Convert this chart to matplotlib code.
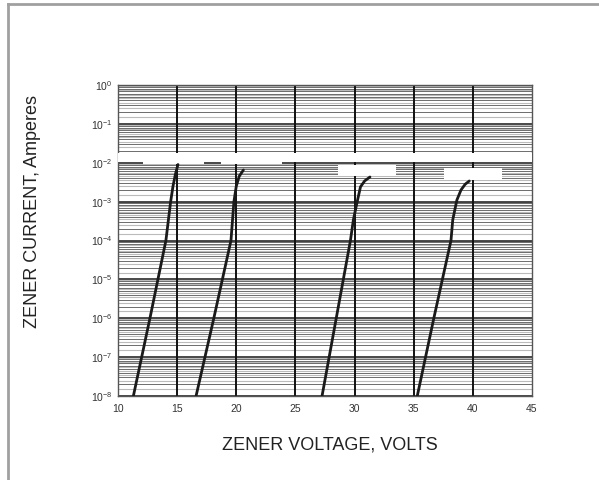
import numpy as np
import matplotlib
matplotlib.use("Agg")
import matplotlib.pyplot as plt
from matplotlib.patches import Rectangle
from matplotlib.lines import Line2D

plt.rcParams['font.family'] = ['Liberation Sans', 'DejaVu Sans']
plt.rcParams['mathtext.fontset'] = 'custom'
plt.rcParams['mathtext.rm'] = 'Liberation Sans'

# zener curves (volts, amperes)
current_1 = [1e-8, 1e-6, 1e-4, 1e-3, 2.5e-3, 5e-3, 9e-3]
volts_1 = [11.3, 12.7, 14.05, 14.45, 14.65, 14.85, 15.07]

current_2 = [1e-8, 1e-6, 1e-4, 1e-3, 2.5e-3, 4.5e-3, 6.5e-3]
volts_2 = [16.6, 18.1, 19.55, 19.8, 20.0, 20.25, 20.6]

current_3 = [1e-8, 1e-6, 1e-4, 3.4e-4, 9.3e-4, 2.4e-3, 3.4e-3, 4.3e-3]
volts_3 = [27.25, 28.45, 29.65, 29.9, 30.2, 30.5, 30.85, 31.3]

current_4 = [1e-8, 1e-6, 1e-4, 3.4e-4, 1.1e-3, 2.0e-3, 2.8e-3, 3.4e-3]
volts_4 = [35.3, 36.7, 38.15, 38.3, 38.65, 39.0, 39.35, 39.7]

x_ticks = [10, 15, 20, 25, 30, 35, 40, 45]
decades = [0, -1, -2, -3, -4, -5, -6, -7, -8]

fig = plt.figure(figsize=(5.99, 4.8), dpi=100)
ax = fig.add_axes([118 / 599, 1 - 396 / 480, 414 / 599, 311 / 480])
ax.set_yscale('log')
ax.set_xlim(10, 45)
ax.set_ylim(1e-8, 1)

# scanned-looking log grid, gray and black lines mixed
for d in decades[1:]:
    base = 10.0 ** d
    for m in [1.5, 2.5, 3.5, 4.5, 5.5, 7.5, 9.5]:
        ax.axhline(m * base, color='#bbbbbb', lw=0.8, zorder=1)
    for m in range(2, 10):
        ax.axhline(m * base, color='#333333', lw=0.5, zorder=1)
for d in decades:
    ax.axhline(10.0 ** d, color='#2a2a2a', lw=1.2, zorder=1)
for v in x_ticks[1:-1]:
    ax.axvline(v, color='#111111', lw=1.4, zorder=2)

# white patches left over on the scan
white = dict(facecolor='white', edgecolor='none', zorder=3)
ax.add_patch(Rectangle((10, 1.06e-2), 35, 1.8e-2 - 1.06e-2, **white))
ax.add_patch(Rectangle((12.1, 9.3e-3), 5.2, 1.4e-3, **white))
ax.add_patch(Rectangle((18.7, 9.3e-3), 5.2, 1.4e-3, **white))
ax.add_patch(Rectangle((28.6, 4.6e-3), 4.9, 8.8e-3 - 4.6e-3, **white))
ax.add_patch(Rectangle((37.6, 3.6e-3), 4.9, 7.4e-3 - 3.6e-3, **white))

for v, c in [(volts_1, current_1), (volts_2, current_2),
             (volts_3, current_3), (volts_4, current_4)]:
    ax.plot(v, c, color='#1a1a1a', lw=2.0, zorder=5, solid_capstyle='round')

ax.set_xticks(x_ticks)
ax.set_xticklabels([str(t) for t in x_ticks])
ax.set_yticks([10.0 ** d for d in decades])
ax.set_yticklabels([r'$\mathregular{10^{%d}}$' % d for d in decades])
ax.yaxis.set_minor_locator(matplotlib.ticker.NullLocator())
ax.tick_params(length=0, labelsize=7.5, colors='#333333', pad=4)
ax.tick_params(axis='x', pad=6)
for s in ax.spines.values():
    s.set_color('#555555')
    s.set_linewidth(1.0)

fig.text(330 / 599, 1 - 445 / 480, 'ZENER VOLTAGE, VOLTS', ha='center',
         va='center', fontsize=13, color='#222222')
fig.text(33 / 599, 1 - 212 / 480, 'ZENER CURRENT, Amperes', ha='center',
         va='center', rotation=90, fontsize=13, color='#222222')

# gray frame of the scan (top and left only)
fig.add_artist(Line2D([7.5 / 599, 7.5 / 599], [0, 1 - 4 / 480],
                      color='#a0a0a0', lw=2))
fig.add_artist(Line2D([7.5 / 599, 1], [1 - 4 / 480, 1 - 4 / 480],
                      color='#a0a0a0', lw=2))

fig.savefig('out.png', dpi=100)
